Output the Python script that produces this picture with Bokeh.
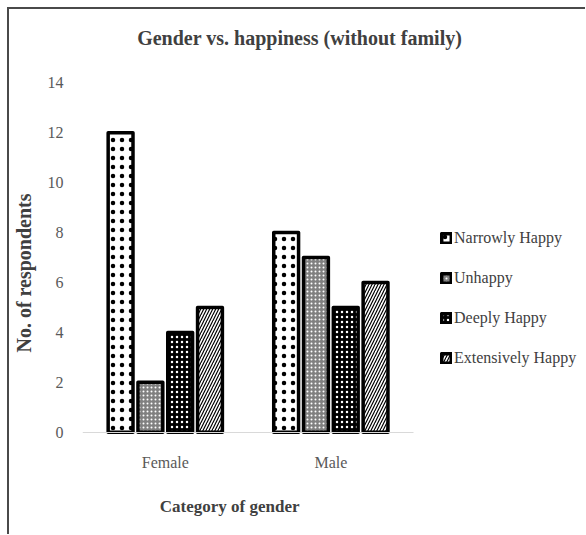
from bokeh.plotting import figure
from bokeh.models import ColumnDataSource, Range1d, Legend, LegendItem, FixedTicker, Label
from bokeh.transform import dodge
from bokeh.embed import file_html
from bokeh.resources import INLINE

genders = ["Female", "Male"]
narrowly_happy = [12, 8]
unhappy = [2, 7]
deeply_happy = [4, 5]
extensively_happy = [5, 6]
series_names = ["Narrowly Happy", "Unhappy", "Deeply Happy", "Extensively Happy"]
y_ticks = [0, 2, 4, 6, 8, 10, 12, 14]
title_text = "Gender vs. happiness (without  family)"
x_title = "Category of gender"
y_title = "No. of respondents"

xpos = [i + 0.5 for i in range(len(genders))]
source = ColumnDataSource(data=dict(
    xpos=xpos,
    gender=genders,
    narrowly=narrowly_happy,
    unhappy=unhappy,
    deeply=deeply_happy,
    extensively=extensively_happy,
))

FONT = "Liberation Serif"

p = figure(
    x_range=Range1d(0, 3.02),
    y_range=Range1d(-4.18, 16.94),
    width=578, height=527,
    output_backend="svg", toolbar_location=None,
    min_border_left=68, min_border_right=5, min_border_top=0, min_border_bottom=0,
)
p.styles = {"margin-left": "7px", "margin-top": "7px",
            "border-top": "2px solid #4a4a4a", "border-left": "2px solid #4a4a4a"}
p.outline_line_color = None
p.background_fill_color = "white"
p.border_fill_color = "white"

styles = [
    dict(fill_color="white", hatch_pattern="dot", hatch_color="black", hatch_scale=9, hatch_weight=0.8),
    dict(fill_color="#808080", hatch_pattern="dot", hatch_color="white", hatch_scale=4, hatch_weight=1.2),
    dict(fill_color="black", hatch_pattern="dot", hatch_color="white", hatch_scale=5, hatch_weight=1.3),
    dict(fill_color="white", hatch_pattern="right_diagonal_line", hatch_color="black", hatch_scale=6, hatch_weight=1.2),
]
cols = ["narrowly", "unhappy", "deeply", "extensively"]
offsets = [-0.27, -0.09, 0.09, 0.27]

renderers = []
for col, off, st in zip(cols, offsets, styles):
    r = p.vbar(x=dodge("xpos", off), top=col, width=0.15, source=source,
               line_color="black", line_width=3.5, line_join="round", **st)
    renderers.append(r)

p.xgrid.grid_line_color = None
p.ygrid.grid_line_color = None

p.yaxis.ticker = FixedTicker(ticks=y_ticks)
p.yaxis.axis_line_color = None
p.yaxis.major_tick_line_color = None
p.yaxis.minor_tick_line_color = None
p.yaxis.major_label_text_font = FONT
p.yaxis.major_label_text_font_size = "16px"
p.yaxis.major_label_text_color = "#595959"
p.yaxis.major_label_standoff = 13
p.yaxis.axis_label = y_title
p.yaxis.axis_label_text_font = FONT
p.yaxis.axis_label_text_font_size = "20px"
p.yaxis.axis_label_text_font_style = "bold"
p.yaxis.axis_label_text_color = "#404040"
p.yaxis.axis_label_standoff = 10

p.xaxis.fixed_location = 0
p.xaxis.bounds = (0, len(genders))
p.xaxis.ticker = FixedTicker(ticks=xpos)
p.xaxis.major_label_overrides = {x: g for x, g in zip(xpos, genders)}
p.xaxis.axis_line_color = "#d9d9d9"
p.xaxis.major_tick_line_color = None
p.xaxis.minor_tick_line_color = None
p.xaxis.major_label_text_font = FONT
p.xaxis.major_label_text_font_size = "16px"
p.xaxis.major_label_text_color = "#595959"
p.xaxis.major_label_standoff = 16

p.add_layout(Label(x=1.327, y=15.81, text=title_text, text_align="center", text_baseline="middle",
                   text_font=FONT, text_font_size="20px", text_font_style="bold",
                   text_color="#404040"))
p.add_layout(Label(x=0.889, y=-2.98, text=x_title, text_align="center", text_baseline="middle",
                   text_font=FONT, text_font_size="17px", text_font_style="bold",
                   text_color="#404040"))

legend = Legend(
    items=[LegendItem(label=n, renderers=[r]) for n, r in zip(series_names, renderers)],
    location=(358, 168), orientation="vertical",
    label_text_font=FONT, label_text_font_size="16px", label_text_color="#404040",
    glyph_width=12, glyph_height=12, label_height=20, spacing=20,
    label_standoff=2, padding=0, margin=0,
    border_line_color=None, background_fill_alpha=0,
)
p.add_layout(legend)

open("out.html", "w").write(file_html(p, INLINE))
